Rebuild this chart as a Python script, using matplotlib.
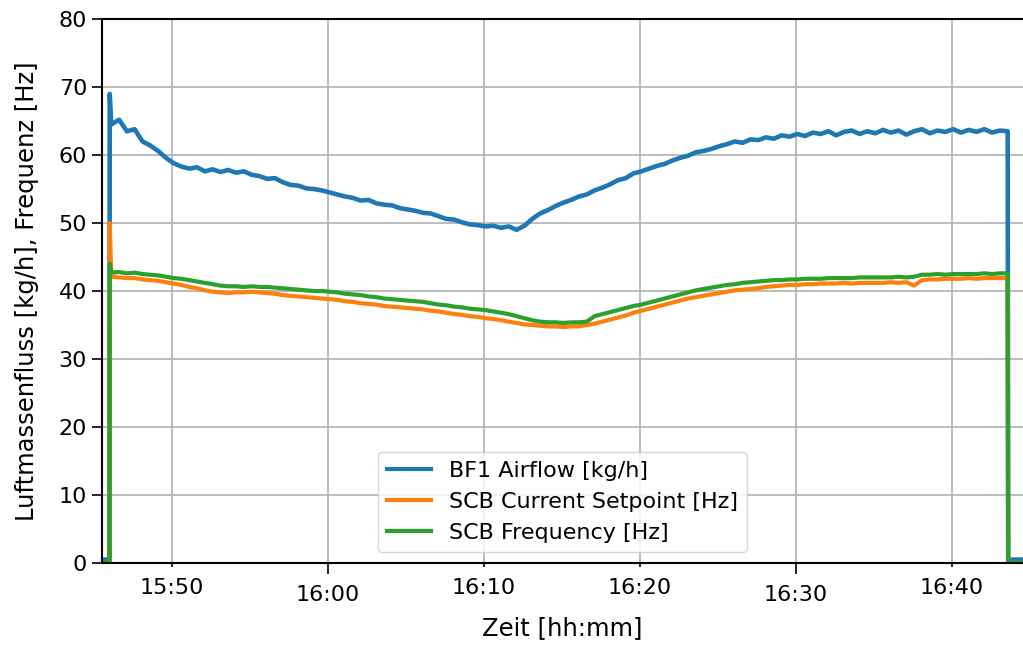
import datetime
import matplotlib
matplotlib.use("Agg")
import matplotlib.pyplot as plt
from matplotlib import dates

DAY = datetime.datetime(2019, 1, 1)
START = DAY + datetime.timedelta(hours=15, minutes=46, seconds=6)
STEP_S = 30  # one value every 30 seconds
OFF_BEFORE = [DAY + datetime.timedelta(hours=15, minutes=45, seconds=29),
              DAY + datetime.timedelta(hours=15, minutes=45, seconds=59)]
SPIKE_TIME = DAY + datetime.timedelta(hours=15, minutes=46, seconds=0)
OFF_AFTER = [DAY + datetime.timedelta(hours=16, minutes=43, seconds=38),
             DAY + datetime.timedelta(hours=16, minutes=44, seconds=40)]
X_MIN = DAY + datetime.timedelta(hours=15, minutes=45, seconds=29)
X_MAX = DAY + datetime.timedelta(hours=16, minutes=44, seconds=35)

# values while the unit is off
OFF_AIRFLOW = 0.5
OFF_SCB = 0.0

# start-up peaks
SPIKE_AIRFLOW = 69.0
SPIKE_SETPOINT = 50.0
SPIKE_FREQUENCY = 44.0

# BF1 Airflow [kg/h], from 15:46:06 to 16:43:36
airflow = [
    64.5, 65.2, 63.5, 63.8, 62.0, 61.4, 60.6, 59.6, 58.8,
    58.3, 58.0, 58.2, 57.6, 57.9, 57.5, 57.8, 57.4, 57.6, 57.1,
    56.9, 56.5, 56.6, 56.0, 55.6, 55.5, 55.1, 55.0, 54.8, 54.5,
    54.2, 53.9, 53.7, 53.3, 53.4, 52.9, 52.7, 52.6, 52.2, 52.0,
    51.8, 51.5, 51.4, 51.0, 50.6, 50.5, 50.1, 49.8, 49.7, 49.5,
    49.6, 49.3, 49.5, 49.0, 49.6, 50.6, 51.4, 51.9, 52.5, 53.0,
    53.4, 53.9, 54.2, 54.8, 55.2, 55.7, 56.3, 56.6, 57.3, 57.6,
    58.0, 58.4, 58.7, 59.2, 59.6, 59.9, 60.4, 60.6, 60.9, 61.3,
    61.6, 62.0, 61.8, 62.3, 62.2, 62.6, 62.4, 62.9, 62.7, 63.1,
    62.8, 63.3, 63.1, 63.5, 62.9, 63.4, 63.6, 63.1, 63.5, 63.2,
    63.7, 63.3, 63.6, 63.0, 63.5, 63.8, 63.2, 63.6, 63.4, 63.8,
    63.3, 63.7, 63.4, 63.8, 63.3, 63.6, 63.5,
]

# SCB Current Setpoint [Hz]
setpoint = [
    42.1, 42.0, 41.9, 41.9, 41.7, 41.6, 41.5, 41.3, 41.1,
    40.9, 40.6, 40.4, 40.1, 39.9, 39.8, 39.7, 39.8, 39.8, 39.9,
    39.8, 39.7, 39.6, 39.4, 39.3, 39.2, 39.1, 39.0, 38.9, 38.8,
    38.7, 38.5, 38.4, 38.2, 38.1, 38.0, 37.8, 37.7, 37.6, 37.5,
    37.4, 37.3, 37.1, 37.0, 36.8, 36.6, 36.5, 36.3, 36.2, 36.0,
    35.9, 35.7, 35.5, 35.3, 35.1, 35.0, 34.9, 34.8, 34.8, 34.7,
    34.8, 34.8, 35.0, 35.2, 35.5, 35.8, 36.1, 36.4, 36.8, 37.1,
    37.4, 37.7, 38.0, 38.3, 38.6, 38.9, 39.1, 39.3, 39.5, 39.7,
    39.9, 40.1, 40.2, 40.3, 40.4, 40.6, 40.7, 40.8, 40.9, 40.9,
    41.0, 41.0, 41.1, 41.1, 41.1, 41.2, 41.1, 41.2, 41.2, 41.2,
    41.2, 41.3, 41.2, 41.3, 40.8, 41.6, 41.7, 41.7, 41.8, 41.8,
    41.8, 41.9, 41.8, 41.9, 41.9, 41.9, 41.9,
]

# SCB Frequency [Hz]
frequency = [
    42.7, 42.8, 42.6, 42.7, 42.5, 42.4, 42.3, 42.1, 41.9,
    41.8, 41.6, 41.4, 41.2, 41.0, 40.8, 40.7, 40.7, 40.6, 40.7,
    40.6, 40.6, 40.5, 40.4, 40.3, 40.2, 40.1, 40.0, 40.0, 39.9,
    39.8, 39.6, 39.5, 39.4, 39.2, 39.1, 38.9, 38.8, 38.7, 38.6,
    38.5, 38.4, 38.2, 38.0, 37.9, 37.7, 37.6, 37.4, 37.3, 37.2,
    37.0, 36.8, 36.6, 36.3, 36.0, 35.7, 35.5, 35.4, 35.4, 35.3,
    35.4, 35.4, 35.5, 36.3, 36.6, 36.9, 37.2, 37.5, 37.8, 38.0,
    38.3, 38.6, 38.9, 39.2, 39.5, 39.8, 40.1, 40.3, 40.5, 40.7,
    40.9, 41.0, 41.2, 41.3, 41.4, 41.5, 41.6, 41.6, 41.7, 41.7,
    41.8, 41.8, 41.8, 41.9, 41.9, 41.9, 41.9, 42.0, 42.0, 42.0,
    42.0, 42.0, 42.1, 42.0, 42.1, 42.4, 42.4, 42.5, 42.4, 42.5,
    42.5, 42.5, 42.5, 42.6, 42.5, 42.6, 42.6,
]

times = [START + datetime.timedelta(seconds=STEP_S * i) for i in range(len(airflow))]
x = OFF_BEFORE + [SPIKE_TIME] + times + OFF_AFTER

fig = plt.figure(figsize=(10.23, 6.46), dpi=100)
ax = fig.add_axes([0.0994, 0.1285, 0.9006, 0.842])

ax.plot(x, [OFF_AIRFLOW] * 2 + [SPIKE_AIRFLOW] + airflow + [OFF_AIRFLOW] * 2,
        color="tab:blue", lw=3.3, label="BF1 Airflow [kg/h]")
ax.plot(x, [OFF_SCB] * 2 + [SPIKE_SETPOINT] + setpoint + [OFF_SCB] * 2,
        color="tab:orange", lw=3, label="SCB Current Setpoint [Hz]")
ax.plot(x, [OFF_SCB] * 2 + [SPIKE_FREQUENCY] + frequency + [OFF_SCB] * 2,
        color="tab:green", lw=3, label="SCB Frequency [Hz]")

ax.set_xlim(X_MIN, X_MAX)
ax.set_ylim(0, 80)
ax.set_yticks(range(0, 81, 10))

ax.xaxis.set_major_locator(dates.MinuteLocator(byminute=[0, 30]))
ax.xaxis.set_minor_locator(dates.MinuteLocator(byminute=[10, 20, 40, 50]))
ax.xaxis.set_major_formatter(dates.DateFormatter("%H:%M"))
ax.xaxis.set_minor_formatter(dates.DateFormatter("%H:%M"))

ax.tick_params(axis="x", which="major", length=8, width=1.2, pad=8, labelsize=16)
ax.tick_params(axis="x", which="minor", length=3, width=1.2, pad=8, labelsize=16)
ax.tick_params(axis="y", length=7, width=1.2, labelsize=16)

ax.grid(True, which="both", color="#b0b0b0", lw=1.2)
for side in ["left", "bottom", "top"]:
    ax.spines[side].set_linewidth(1.5)
ax.spines["right"].set_visible(False)

ax.set_xlabel("Zeit [hh:mm]", fontsize=17.5, labelpad=8)
ax.set_ylabel("Luftmassenfluss [kg/h], Frequenz [Hz]", fontsize=17.5, labelpad=14)
leg = ax.legend(loc="lower center", fontsize=16)
for line in leg.get_lines():
    line.set_linewidth(3)

fig.savefig("out.png", dpi=100)
